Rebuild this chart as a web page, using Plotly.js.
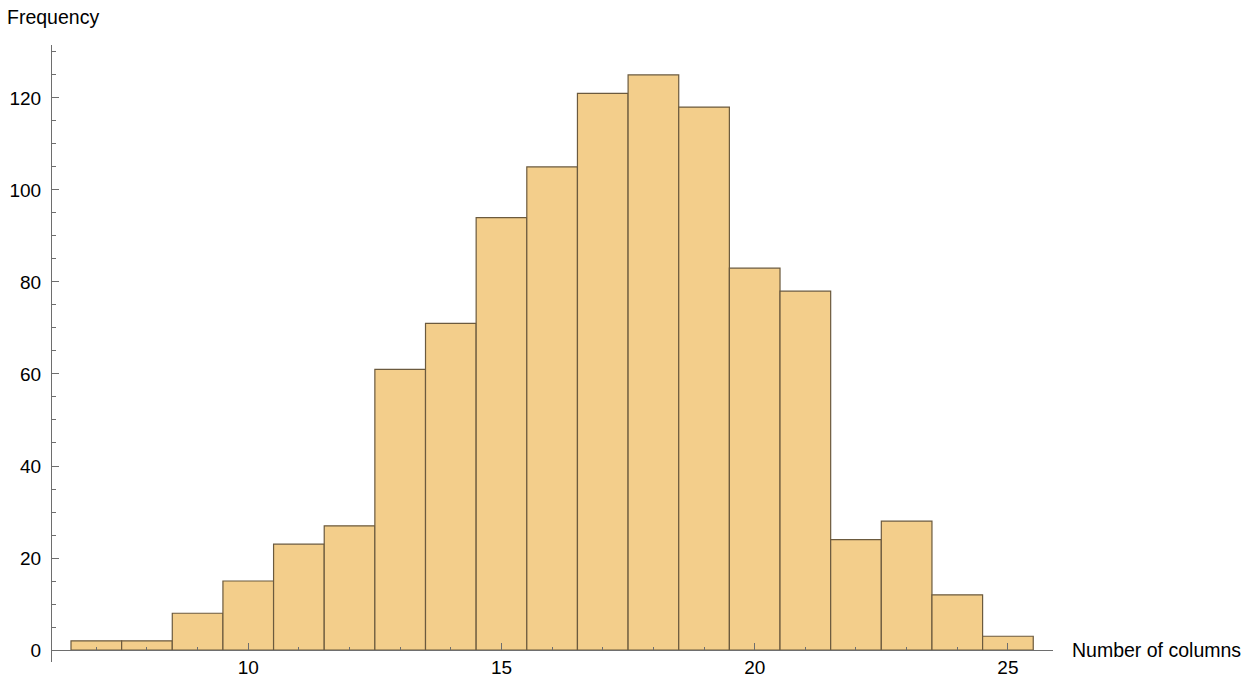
<!DOCTYPE html>
<html>
<head>
<meta charset="utf-8">
<script src="https://cdn.plot.ly/plotly-3.0.1.min.js"></script>
<style>
  html, body { margin: 0; padding: 0; background: #ffffff; }
  #chart { width: 1248px; height: 688px; }
</style>
</head>
<body>
<div id="chart"></div>
<script>
// Histogram bins (centre of each unit-wide bin) and counts
const binCenters = [7, 8, 9, 10, 11, 12, 13, 14, 15, 16, 17, 18, 19, 20, 21, 22, 23, 24, 25];
const counts     = [2, 2, 8, 15, 23, 27, 61, 71, 94, 105, 121, 125, 118, 83, 78, 24, 28, 12, 3];
const xTickVals  = [10, 15, 20, 25];
const yTickVals  = [0, 20, 40, 60, 80, 100, 120];
const xTitle = "Number of columns";
const yTitle = "Frequency";

const xRange = [6.125, 25.89];
const yRange = [-2.6, 131.5];
const axisColor = "#6e6e6e";
const fontFam = "Liberation Sans, Arial, Helvetica, sans-serif";

const trace = {
  type: "bar",
  x: binCenters,
  y: counts,
  width: binCenters.map(() => 1),
  marker: { color: "#f3ce8b", line: { color: "#6b5a3e", width: 1.2 } },
  hoverinfo: "x+y"
};

const layout = {
  width: 1248,
  height: 688,
  margin: { l: 52, r: 195, t: 45, b: 26, pad: 0 },
  paper_bgcolor: "#ffffff",
  plot_bgcolor: "#ffffff",
  showlegend: false,
  bargap: 0,
  font: { family: fontFam, size: 19, color: "#000000" },
  xaxis: {
    range: xRange,
    anchor: "free",
    position: (0 - yRange[0]) / (yRange[1] - yRange[0]),
    showline: true, linecolor: axisColor, linewidth: 1,
    showgrid: false, zeroline: false,
    tickmode: "array", tickvals: xTickVals, ticktext: xTickVals.map(String),
    ticks: "inside", ticklen: 7, tickwidth: 1, tickcolor: axisColor,
    minor: { ticks: "inside", dtick: 1, tick0: 0, ticklen: 3.5, tickwidth: 1, tickcolor: axisColor, showgrid: false },
    tickfont: { family: fontFam, size: 19, color: "#000000" },
    fixedrange: true
  },
  yaxis: {
    range: yRange,
    showline: true, linecolor: axisColor, linewidth: 1,
    showgrid: false, zeroline: false,
    tickmode: "array", tickvals: yTickVals, ticktext: yTickVals.map(String),
    ticks: "inside", ticklen: 7, tickwidth: 1, tickcolor: axisColor,
    minor: { ticks: "inside", dtick: 5, tick0: 0, ticklen: 3.5, tickwidth: 1, tickcolor: axisColor, showgrid: false },
    tickfont: { family: fontFam, size: 19, color: "#000000" },
    ticklabelstandoff: 6,
    fixedrange: true
  },
  annotations: [
    {
      text: yTitle, xref: "paper", yref: "paper",
      x: -0.047, y: 1.0454, xanchor: "left", yanchor: "middle",
      showarrow: false, font: { family: fontFam, size: 19.5, color: "#000000" }
    },
    {
      text: xTitle, xref: "paper", yref: "y",
      x: 1.017, y: 0, xanchor: "left", yanchor: "middle",
      showarrow: false, font: { family: fontFam, size: 19.5, color: "#000000" }
    }
  ]
};

Plotly.newPlot("chart", [trace], layout, { displayModeBar: false, staticPlot: true });
</script>
</body>
</html>
